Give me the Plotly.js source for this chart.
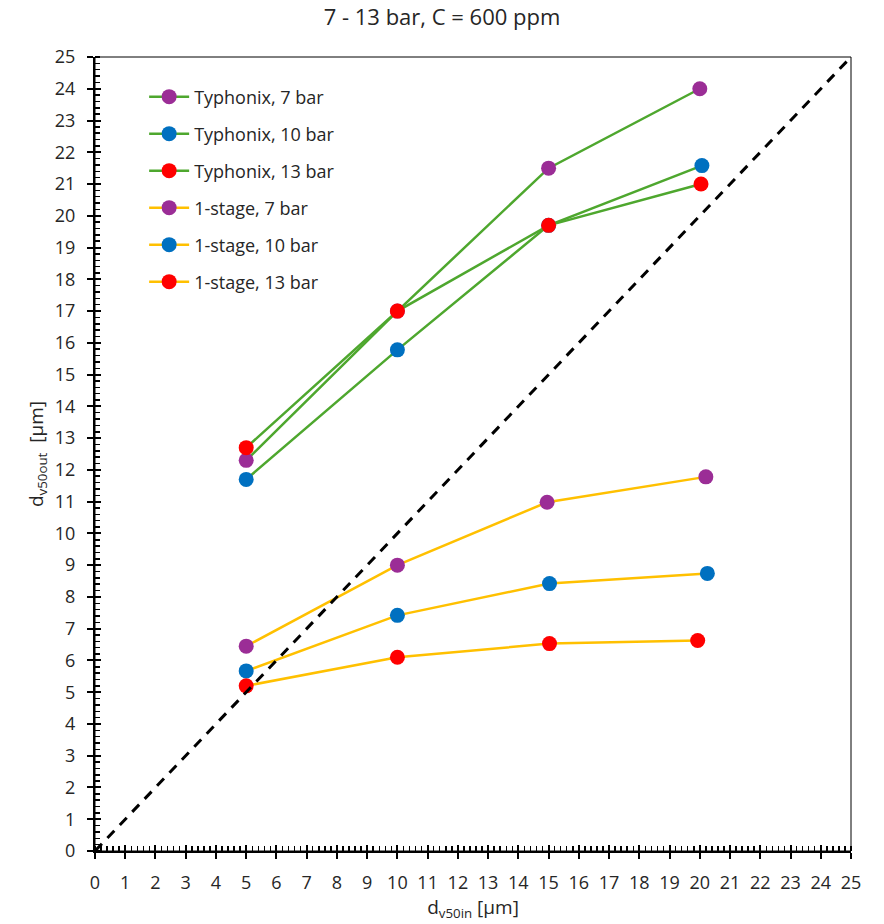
<!DOCTYPE html>
<html>
<head>
<meta charset="utf-8">
<script src="https://cdn.plot.ly/plotly-3.0.1.min.js"></script>
<style>html,body{margin:0;padding:0;background:#fff;}#chart{width:884px;height:924px;}</style>
</head>
<body>
<div id="chart"></div>
<script>
// Data
const typhonix7_x  = [5, 10, 15, 20];
const typhonix7_y  = [12.3, 17.0, 21.5, 24.0];
const typhonix10_x = [5, 10, 15, 20.07];
const typhonix10_y = [11.7, 15.78, 19.7, 21.58];
const typhonix13_x = [5, 10, 15, 20.04];
const typhonix13_y = [12.7, 17.0, 19.7, 21.0];
const stage7_x  = [5, 10, 14.95, 20.2];
const stage7_y  = [6.45, 9.0, 10.98, 11.78];
const stage10_x = [5, 10, 15.03, 20.25];
const stage10_y = [5.67, 7.42, 8.42, 8.74];
const stage13_x = [5, 10, 15.03, 19.93];
const stage13_y = [5.2, 6.1, 6.53, 6.63];
const diag_x = [0, 25];
const diag_y = [0, 25];
const legendNames = ["Typhonix, 7 bar", "Typhonix, 10 bar", "Typhonix, 13 bar",
                     "1-stage, 7 bar", "1-stage, 10 bar", "1-stage, 13 bar"];

const GREEN = '#4ea72e', YELLOW = '#ffc000';
const PURPLE = '#9b2d96', BLUE = '#0070c0', RED = '#ff0000';
const FONT = '"Open Sans", Lato, sans-serif';
const TXT = '#262626';

function series(name, xs, ys, lineColor, markerColor, group) {
  return {
    type: 'scatter', mode: 'lines+markers', name: name, x: xs, y: ys,
    legendgroup: group,
    line: {color: lineColor, width: 2.5},
    marker: {color: markerColor, size: 15},
    xaxis: 'x', yaxis: 'y'
  };
}

const traces = [
  {type: 'scatter', mode: 'lines', x: diag_x, y: diag_y, showlegend: false,
   line: {color: '#000', width: 3, dash: '10px,8px'}, xaxis: 'x2', yaxis: 'y2'},
  series(legendNames[0], typhonix7_x, typhonix7_y, GREEN, PURPLE, 'g1'),
  series(legendNames[1], typhonix10_x, typhonix10_y, GREEN, BLUE, 'g2'),
  series(legendNames[2], typhonix13_x, typhonix13_y, GREEN, RED, 'g3'),
  series(legendNames[3], stage7_x, stage7_y, YELLOW, PURPLE, 'g4'),
  series(legendNames[4], stage10_x, stage10_y, YELLOW, BLUE, 'g5'),
  series(legendNames[5], stage13_x, stage13_y, YELLOW, RED, 'g6')
];

const axisCommon = {
  range: [0, 25], dtick: 1, tick0: 0, showgrid: false, zeroline: false,
  showline: true, linecolor: '#000', linewidth: 2,
  ticks: 'outside', ticklen: 6, tickwidth: 2, tickcolor: '#000',
  tickfont: {family: FONT, size: 18, color: TXT},
  ticklabelstandoff: 8,
  minor: {dtick: 0.2, ticks: 'inside', ticklen: 5, tickwidth: 1.5, tickcolor: '#000', showgrid: false},
  fixedrange: true
};

const layout = {
  width: 884, height: 924,
  margin: {l: 95, r: 33, t: 57, b: 73},
  paper_bgcolor: '#fff', plot_bgcolor: '#fff',
  title: {text: '7 - 13 bar, C = 600 ppm', x: 0.5, xanchor: 'center', y: 0.99, yanchor: 'top',
          font: {family: FONT, size: 22, color: TXT}},
  showlegend: true,
  legend: {x: 0.065, y: 0.973, xanchor: 'left', yanchor: 'top',
           bgcolor: 'rgba(0,0,0,0)', font: {family: FONT, size: 18, color: TXT},
           tracegroupgap: 10.6, itemwidth: 40},
  xaxis: Object.assign({}, axisCommon, {
    title: {text: 'd<sub>v50in</sub> [µm]', font: {family: FONT, size: 19, color: TXT}, standoff: 5}
  }),
  yaxis: Object.assign({}, axisCommon, {
    title: {text: 'd<sub>v50out</sub>  [µm]', font: {family: FONT, size: 19, color: TXT}, standoff: 6}
  }),
  xaxis2: {range: [0, 25], overlaying: 'x', dtick: 1, showgrid: false, zeroline: false, showline: false,
           ticks: 'inside', ticklen: 6, tickwidth: 2, tickcolor: '#000', showticklabels: false, fixedrange: true},
  yaxis2: {range: [0, 25], overlaying: 'y', dtick: 1, showgrid: false, zeroline: false, showline: false,
           ticks: 'inside', ticklen: 6, tickwidth: 2, tickcolor: '#000', showticklabels: false, fixedrange: true},
  shapes: [{type: 'rect', xref: 'paper', yref: 'paper', x0: 0, x1: 1, y0: 0, y1: 1,
            line: {color: '#000', width: 1}, fillcolor: 'rgba(0,0,0,0)', layer: 'above'}]
};

Plotly.newPlot('chart', traces, layout, {displayModeBar: false, staticPlot: true});
</script>
</body>
</html>
